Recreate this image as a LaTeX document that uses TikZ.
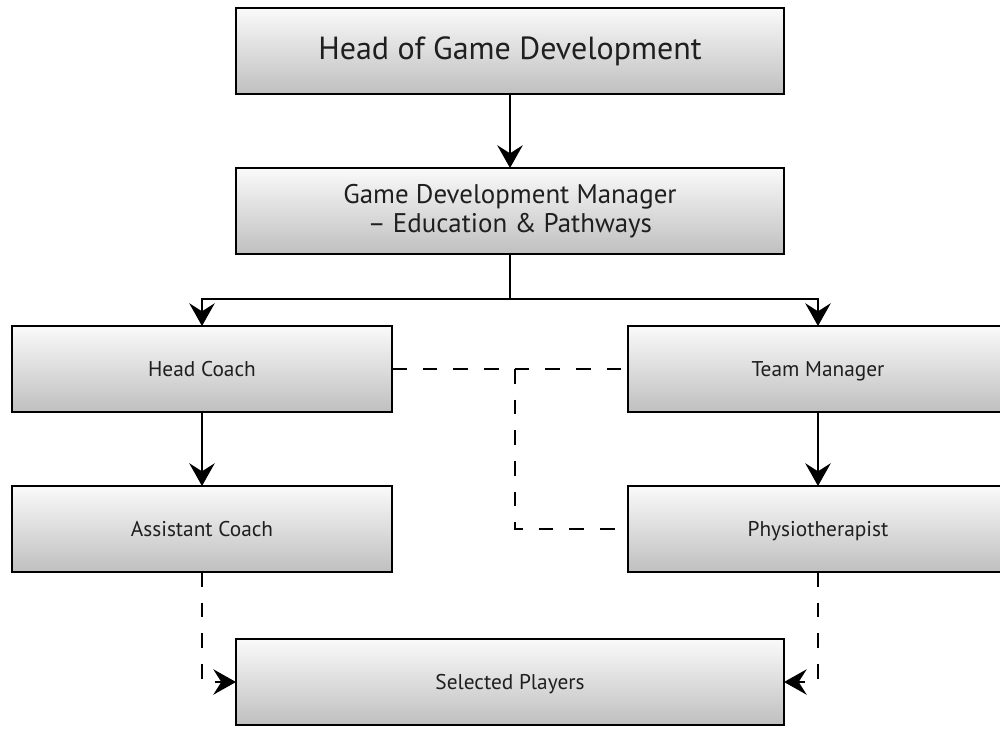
\documentclass[tikz,border=0pt]{standalone}
\usepackage{fontspec}
\setmainfont{PT Sans}
\usepackage{xcolor}
\usepackage{tikz}
\usetikzlibrary{positioning,arrows.meta}
\tikzstyle{leadbox}=[rectangle, draw=black, line width=2pt, top color=gray!4, bottom color=gray!50,
        text centered, text=black!88, minimum width=411pt, minimum height=64.5pt, inner sep=0pt, outer sep=0pt]
\tikzstyle{rolebox}=[leadbox, minimum width=285pt, font=\fontsize{16}{19}\selectfont,
        text height=1.25em, text depth=0.2em]
\tikzstyle{link}=[line width=2pt, -{Stealth[length=17pt, width=19pt, inset=6pt]}]
\tikzstyle{dashlink}=[line width=1.6pt, dash pattern=on 11pt off 12pt]

\begin{document}
\begin{tikzpicture}[node distance=55.5pt]
        \useasboundingbox (-382.5pt,38.25pt) rectangle (367.5pt,-513.75pt);
        \node (head) [leadbox, font=\fontsize{24}{28}\selectfont] at (0,0)
        {Head of Game Development};
        \node (manager) [leadbox, below=of head, align=center, font=\fontsize{20.2}{21.5}\selectfont]
        {Game Development Manager\\ – Education \& Pathways};
        \node (coach) [rolebox, below=54pt of manager, xshift=-231pt] {Head Coach};
        \node (teammgr) [rolebox, below=54pt of manager, xshift=231pt] {Team Manager};
        \node (assistant) [rolebox, below=of coach] {Assistant Coach};
        \node (physio) [rolebox, below=of teammgr] {Physiotherapist};
        \node (players) [rolebox, minimum width=411pt, below=50.25pt of assistant, xshift=231pt]
        {Selected Players};
        \coordinate [below=33.75pt of manager] (split);

        % solid reporting lines
        \draw [link] (head) -- (manager);
        \draw [line width=2pt] (manager) -- (split);
        \draw [link] (split) -| (coach);
        \draw [link] (split) -| (teammgr);
        \draw [link] (coach) -- (assistant);
        \draw [link] (teammgr) -- (physio);

        % dashed links
        \draw [dashlink] (coach.east) -- (teammgr.west) coordinate[pos=0.52] (tee);
        \draw [dashlink] (tee) |- (physio.west);
        \draw [dashlink, -{Stealth[length=17pt, width=19pt, inset=6pt]}] (assistant.south) |- (players.west);
        \draw [dashlink, -{Stealth[length=17pt, width=19pt, inset=6pt]}] (physio.south) |- (players.east);
      \end{tikzpicture}
\end{document}
